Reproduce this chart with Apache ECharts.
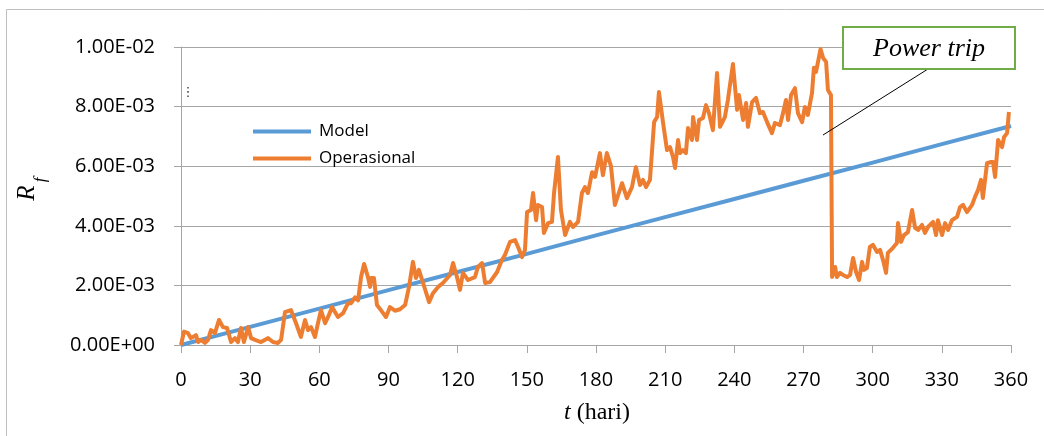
<!DOCTYPE html>
<html>
<head>
<meta charset="utf-8">
<script src="https://cdn.jsdelivr.net/npm/echarts@6/dist/echarts.min.js"></script>
<style>
  html, body { margin: 0; padding: 0; background: #ffffff; }
  #chart { width: 1044px; height: 436px; }
</style>
</head>
<body>
<div id="chart"></div>
<script>
// ---- Data ----
const seriesNames = ['Model', 'Operasional'];

const xTickValues = [0, 30, 60, 90, 120, 150, 180, 210, 240, 270, 300, 330, 360];
const yTickLabels = ['0.00E+00', '2.00E-03', '4.00E-03', '6.00E-03', '8.00E-03', '1.00E-02'];

// Model (linear trend)
const modelDays = [0, 30, 60, 90, 120, 150, 180, 210, 240, 270, 300, 330, 360];
const modelVals = [0, 0.00061, 0.00122, 0.00184, 0.00245, 0.00306, 0.00368, 0.00429, 0.00490, 0.00551, 0.00612, 0.00674, 0.00735];

// Operasional
const opDays = [
  0, 1.3, 3.0, 4.3, 6.5, 7.4, 8.7, 10.4, 11.7, 13.0, 14.7, 16.5, 18.2, 20.0, 21.7, 23.4, 24.7, 26.0, 27.3, 29.1,
  30.4, 32.1, 34.7, 37.7, 39.9, 42.1, 43.4, 45.1, 47.7, 49.9, 52.0, 53.8, 55.1, 56.4, 58.1, 59.4, 60.7, 62.5, 63.8, 65.5,
  68.1, 70.3, 72.4, 73.7, 75.5, 76.8, 78.1, 79.4, 81.1, 82.0, 82.4, 83.7, 85.0, 86.7, 88.9, 90.6, 92.8, 95.0, 97.2, 98.9,
  100.6, 101.9, 103.2, 105.0, 107.6, 109.3, 111.5, 113.6, 116.7, 118.0, 119.7, 121.0, 122.3, 124.5, 127.5, 128.8, 130.6, 131.9, 134.0, 137.1,
  139.2, 140.5, 142.7, 144.9, 146.2, 147.9, 149.2, 150.1, 151.8, 152.7, 154.0, 154.8, 156.6, 157.4, 159.2, 160.9, 161.8, 163.5, 164.8, 166.6,
  168.7, 170.0, 172.2, 173.9, 175.2, 176.5, 178.3, 179.6, 181.7, 183.0, 184.7, 186.5, 188.2, 191.3, 193.4, 195.6, 197.3, 199.1, 200.4, 201.7,
  203.4, 205.2, 206.5, 207.3, 209.1, 210.8, 212.1, 213.4, 214.3, 215.6, 216.4, 217.7, 219.0, 219.9, 221.6, 222.1, 223.8, 224.7, 226.4, 227.7,
  229.0, 230.7, 232.5, 233.8, 235.9, 237.2, 239.4, 241.2, 242.0, 243.8, 245.1, 245.9, 247.7, 249.4, 251.1, 252.4, 254.2, 256.3, 257.6, 259.8,
  261.1, 262.4, 263.3, 264.6, 266.3, 267.6, 269.4, 270.6, 271.9, 273.7, 274.5, 275.4, 277.4, 278.5, 279.8, 280.6, 281.9, 282.4, 283.7, 284.5,
  285.8, 287.1, 288.9, 290.2, 291.5, 292.8, 294.1, 295.4, 296.2, 297.5, 298.8, 300.1, 301.9, 303.2, 304.5, 305.8, 306.6, 308.8, 310.5, 311.0,
  312.3, 313.6, 315.3, 317.1, 318.4, 319.7, 321.4, 322.7, 324.0, 326.2, 327.5, 328.3, 330.1, 331.4, 332.7, 334.4, 336.6, 337.9, 339.2, 340.9,
  343.1, 344.4, 345.7, 347.0, 347.8, 349.6, 351.3, 352.2, 353.1, 354.4, 356.1, 357.0, 358.3, 359.1
];
const opVals = [
  0.00000, 0.00045, 0.00040, 0.00023, 0.00033, 0.00010, 0.00017, 0.00007, 0.00017, 0.00050, 0.00040, 0.00084, 0.00060, 0.00057, 0.00010, 0.00023, 0.00010, 0.00057, 0.00010, 0.00060,
  0.00023, 0.00017, 0.00010, 0.00023, 0.00010, 0.00007, 0.00017, 0.00110, 0.00117, 0.00073, 0.00027, 0.00084, 0.00050, 0.00060, 0.00027, 0.00073, 0.00117, 0.00073, 0.00094, 0.00127,
  0.00094, 0.00107, 0.00140, 0.00140, 0.00160, 0.00150, 0.00228, 0.00272, 0.00228, 0.00195, 0.00225, 0.00225, 0.00134, 0.00117, 0.00094, 0.00127, 0.00115, 0.00120, 0.00134, 0.00195,
  0.00279, 0.00225, 0.00252, 0.00208, 0.00144, 0.00174, 0.00195, 0.00208, 0.00235, 0.00275, 0.00228, 0.00185, 0.00242, 0.00218, 0.00228, 0.00262, 0.00275, 0.00208, 0.00211, 0.00245,
  0.00285, 0.00302, 0.00346, 0.00352, 0.00329, 0.00295, 0.00319, 0.00446, 0.00453, 0.00510, 0.00419, 0.00470, 0.00463, 0.00376, 0.00409, 0.00413, 0.00510, 0.00631, 0.00453, 0.00369,
  0.00413, 0.00396, 0.00413, 0.00510, 0.00530, 0.00510, 0.00580, 0.00564, 0.00644, 0.00570, 0.00644, 0.00600, 0.00470, 0.00543, 0.00493, 0.00530, 0.00597, 0.00537, 0.00554, 0.00530,
  0.00554, 0.00748, 0.00765, 0.00849, 0.00745, 0.00654, 0.00664, 0.00631, 0.00594, 0.00688, 0.00644, 0.00654, 0.00644, 0.00728, 0.00688, 0.00765, 0.00688, 0.00755, 0.00762, 0.00805,
  0.00778, 0.00721, 0.00913, 0.00732, 0.00765, 0.00822, 0.00943, 0.00789, 0.00839, 0.00755, 0.00812, 0.00732, 0.00815, 0.00829, 0.00778, 0.00782, 0.00748, 0.00711, 0.00745, 0.00738,
  0.00778, 0.00822, 0.00755, 0.00839, 0.00862, 0.00778, 0.00748, 0.00799, 0.00772, 0.00846, 0.00930, 0.00916, 0.00993, 0.00963, 0.00950, 0.00856, 0.00839, 0.00228, 0.00262, 0.00228,
  0.00242, 0.00235, 0.00228, 0.00235, 0.00292, 0.00245, 0.00218, 0.00279, 0.00252, 0.00258, 0.00329, 0.00336, 0.00312, 0.00319, 0.00285, 0.00242, 0.00309, 0.00326, 0.00342, 0.00409,
  0.00346, 0.00369, 0.00379, 0.00453, 0.00393, 0.00386, 0.00403, 0.00376, 0.00396, 0.00413, 0.00369, 0.00419, 0.00369, 0.00409, 0.00386, 0.00419, 0.00430, 0.00463, 0.00470, 0.00446,
  0.00470, 0.00497, 0.00520, 0.00554, 0.00493, 0.00610, 0.00614, 0.00614, 0.00564, 0.00688, 0.00664, 0.00698, 0.00711, 0.00782
];

// ---- Build ----
const modelData = modelDays.map((d, i) => [d, modelVals[i]]);
const opData = opDays.map((d, i) => [d, opVals[i]]);

const chart = echarts.init(document.getElementById('chart'), null, { renderer: 'canvas' });
const sans = 'Open Sans';
const serif = 'Liberation Serif';
const gridColor = '#a6a6a6';
const blue = '#5B9BD5';
const orange = '#ED7D31';

chart.setOption({
  animation: false,
  backgroundColor: '#ffffff',
  grid: { left: 181, right: 33, top: 47, bottom: 91, containLabel: false },
  legend: {
    data: [
      { name: seriesNames[0], icon: 'rect', itemStyle: { color: blue } },
      { name: seriesNames[1], icon: 'rect', itemStyle: { color: orange } }
    ],
    orient: 'vertical',
    left: 253,
    top: 123,
    padding: 0,
    itemWidth: 58,
    itemHeight: 4,
    itemGap: 10,
    textStyle: { fontFamily: sans, fontSize: 17, color: '#000', padding: [0, 0, 0, 3] }
  },
  xAxis: {
    type: 'value',
    min: 0, max: 360, interval: 30,
    axisLine: { show: true, lineStyle: { color: gridColor, width: 1 } },
    axisTick: { show: true, length: 8, lineStyle: { color: gridColor } },
    axisLabel: { margin: 25, fontFamily: sans, fontSize: 20, color: '#000',
      formatter: v => String(xTickValues[Math.round(v / 30)]) },
    splitLine: { show: false }
  },
  yAxis: {
    type: 'value',
    min: 0, max: 0.01, interval: 0.002,
    axisLine: { show: true, lineStyle: { color: gridColor, width: 1 } },
    axisTick: { show: true, length: 7, lineStyle: { color: gridColor } },
    axisLabel: { margin: 26, fontFamily: sans, fontSize: 20, color: '#000',
      formatter: v => yTickLabels[Math.round(v / 0.002)] },
    splitLine: { show: true, lineStyle: { color: gridColor, width: 1 } }
  },
  series: [
    {
      name: seriesNames[0], type: 'line', data: modelData,
      symbol: 'none', showSymbol: false, smooth: false,
      itemStyle: { color: blue },
      lineStyle: { color: blue, width: 4 }, z: 2
    },
    {
      name: seriesNames[1], type: 'line', data: opData,
      symbol: 'none', showSymbol: false, smooth: false,
      itemStyle: { color: orange },
      lineStyle: { color: orange, width: 4, join: 'round' }, z: 3
    }
  ],
  graphic: [
    { type: 'rect', shape: { x: 6.5, y: 9.5, width: 1100, height: 600 },
      style: { fill: 'none', stroke: '#bfbfbf', lineWidth: 1 }, z: 0, silent: true },
    // y-axis title R_f
    { type: 'text', x: 27, y: 193, rotation: Math.PI / 2,
      style: { text: 'R', font: 'italic 25px "Liberation Serif"', fill: '#000', align: 'center', verticalAlign: 'middle' }, z: 10 },
    { type: 'text', x: 41, y: 180, rotation: Math.PI / 2,
      style: { text: 'f', font: 'italic 17px "Liberation Serif"', fill: '#000', align: 'center', verticalAlign: 'middle' }, z: 10 },
    // x-axis title
    { type: 'text', x: 597, y: 413,
      style: { text: '{i|t} (hari)', fill: '#000', align: 'center', verticalAlign: 'middle',
        font: '24px "Liberation Serif"',
        rich: { i: { fontFamily: serif, fontStyle: 'italic', fontSize: 24, fill: '#000' } } }, z: 10 },
    // small vertical dots
    { type: 'text', x: 188, y: 93,
      style: { text: '⋮', font: '13px "DejaVu Sans"', fill: '#333', align: 'center', verticalAlign: 'middle' }, z: 10 },
    // Power trip annotation
    { type: 'line', shape: { x1: 928, y1: 69, x2: 823, y2: 135 },
      style: { stroke: '#000', lineWidth: 1 }, z: 20 },
    { type: 'rect', shape: { x: 843, y: 27, width: 172, height: 42 },
      style: { fill: '#ffffff', stroke: '#70AD47', lineWidth: 2 }, z: 20 },
    { type: 'text', x: 929, y: 49,
      style: { text: 'Power trip', font: 'italic 26px "Liberation Serif"', fill: '#000', align: 'center', verticalAlign: 'middle' }, z: 21 }
  ]
});
</script>
</body>
</html>
